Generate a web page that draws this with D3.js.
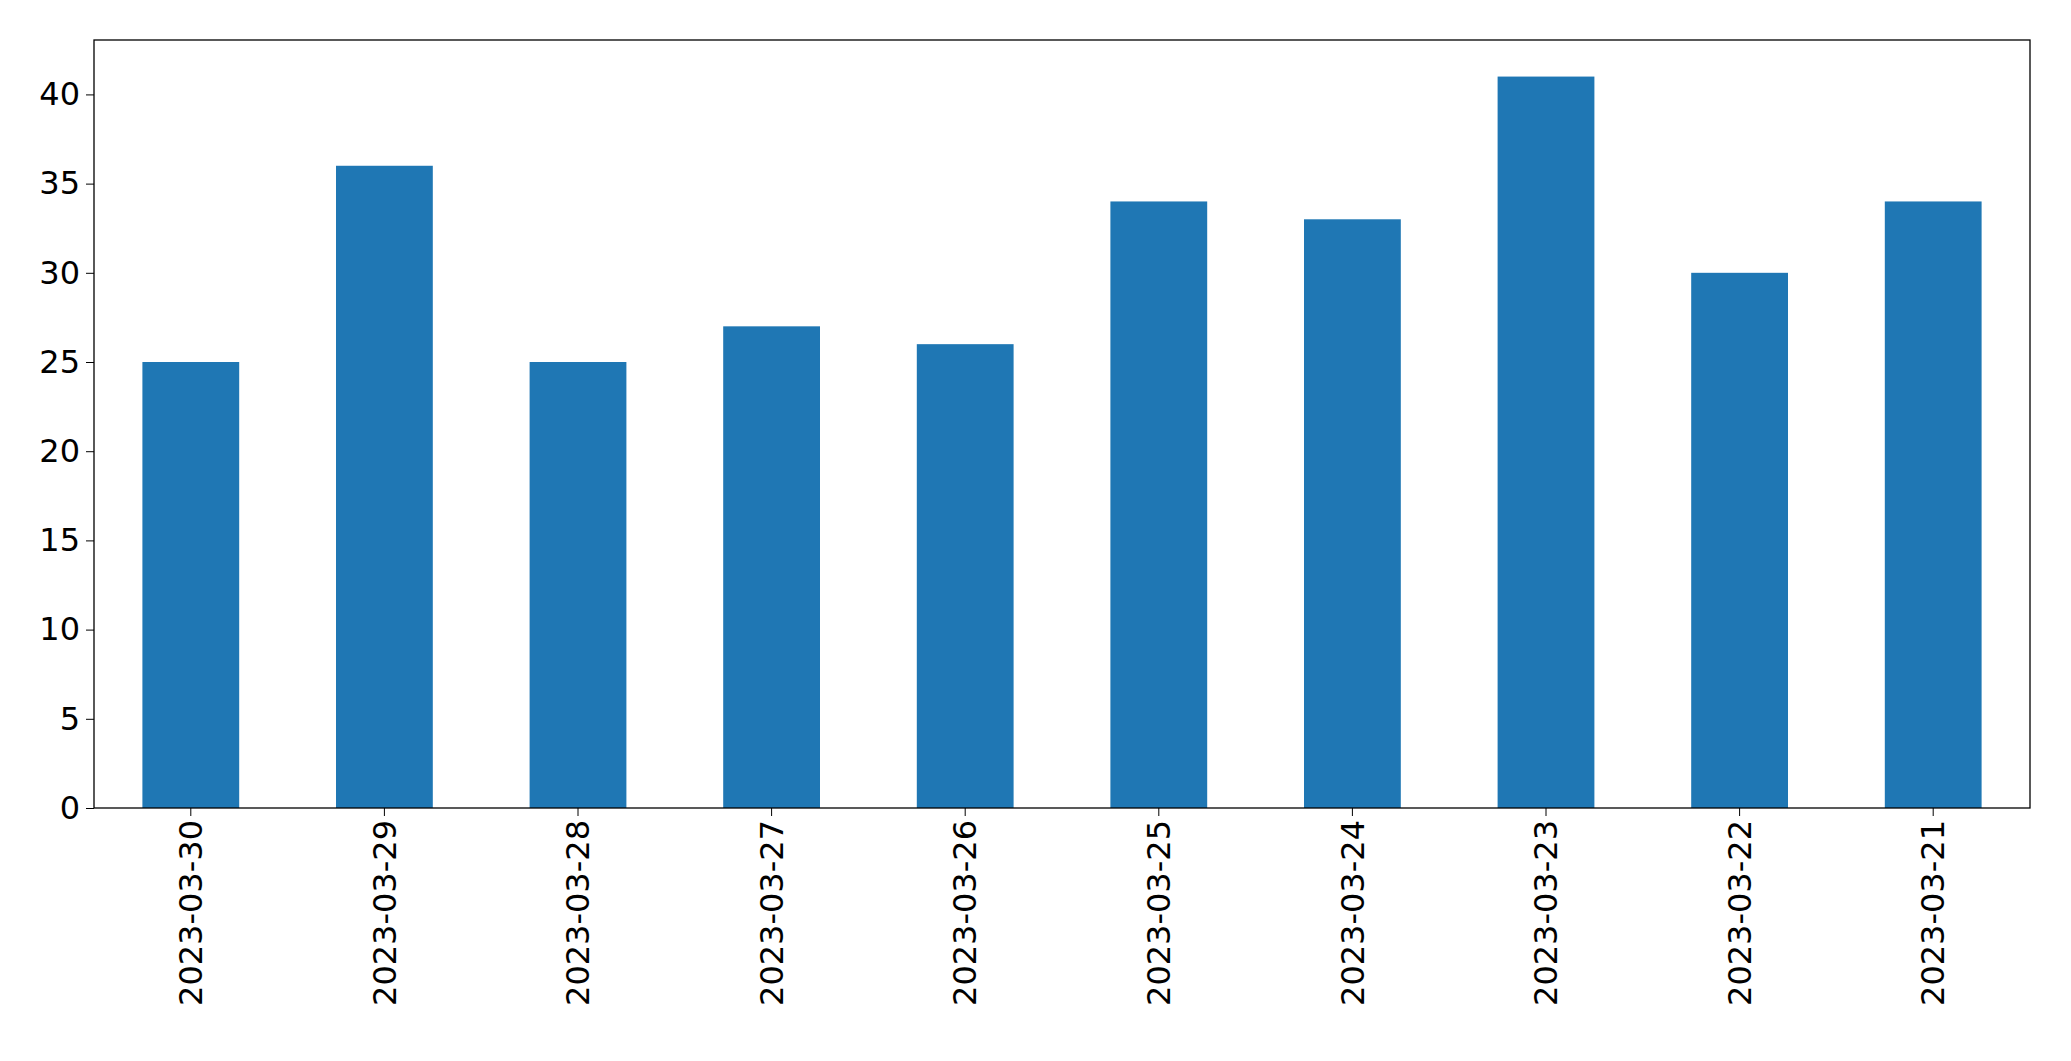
<!DOCTYPE html>
<html><head><meta charset="utf-8">
<script src="https://cdn.jsdelivr.net/npm/d3@7"></script>
<style>body{margin:0;background:#fff}svg{display:block}</style>
</head><body>
<script>
const categories=["2023-03-30","2023-03-29","2023-03-28","2023-03-27","2023-03-26","2023-03-25","2023-03-24","2023-03-23","2023-03-22","2023-03-21"];
const values=[25,36,25,27,26,34,33,41,30,34];
const yTicks=[0,5,10,15,20,25,30,35,40];
const W=2071,H=1061,m={l:94,r:41,t:40,b:253};
const svg=d3.select("body").append("svg").attr("width",W).attr("height",H);
const x=d3.scaleBand().domain(categories).range([m.l,W-m.r]).paddingInner(0.5).paddingOuter(0.25);
const y=d3.scaleLinear().domain([0,43.05]).range([H-m.b,m.t]);
svg.selectAll("rect.bar").data(values).join("rect").attr("class","bar")
 .attr("x",(d,i)=>x(categories[i])).attr("width",x.bandwidth())
 .attr("y",d=>y(d)).attr("height",d=>y(0)-y(d)).attr("fill","#1f77b4");
const font="DejaVu Sans";
const ax=svg.append("g").attr("transform",`translate(0,${H-m.b})`).call(d3.axisBottom(x).tickSize(8).tickSizeOuter(0));
ax.select(".domain").remove();
ax.selectAll("text").attr("font-family",font).attr("font-size",32).attr("fill","#000")
 .attr("transform","rotate(-90)").attr("text-anchor","end").attr("dx","-12").attr("dy","0.35em").attr("x",0).attr("y",0);
const ay=svg.append("g").attr("transform",`translate(${m.l},0)`).call(d3.axisLeft(y).tickValues(yTicks).tickSize(8).tickPadding(6));
ay.select(".domain").remove();
ay.selectAll("text").attr("font-family",font).attr("font-size",32).attr("fill","#000");
svg.append("rect").attr("x",m.l).attr("y",m.t).attr("width",W-m.l-m.r).attr("height",H-m.t-m.b)
 .attr("fill","none").attr("stroke","#000").attr("stroke-width",1.3);
</script>
</body></html>
